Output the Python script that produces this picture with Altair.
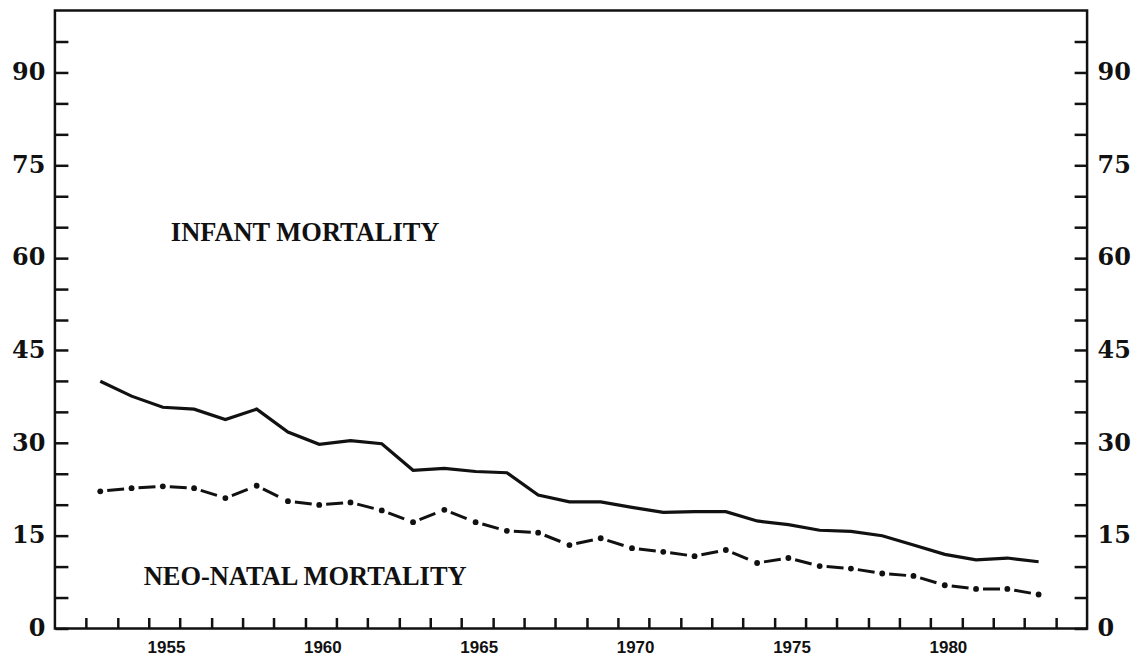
import altair as alt
import pandas as pd

# ---- data ----
years = list(range(1953, 1984))
infant = [40.0, 37.6, 35.8, 35.5, 33.8, 35.5, 31.8, 29.8, 30.4, 29.9,
          25.6, 25.9, 25.4, 25.2, 21.6, 20.5, 20.5, 19.6, 18.8, 18.9,
          18.9, 17.4, 16.8, 15.9, 15.7, 15.0, 13.5, 12.0, 11.1, 11.4, 10.8]
neonatal = [22.2, 22.7, 23.0, 22.7, 21.1, 23.1, 20.6, 20.0, 20.4, 19.1,
            17.2, 19.2, 17.2, 15.8, 15.5, 13.5, 14.6, 13.0, 12.4, 11.7,
            12.7, 10.6, 11.4, 10.1, 9.7, 8.9, 8.5, 7.0, 6.4, 6.4, 5.5]
x_tick_years = list(range(1953, 1985))
x_label_years = [1955, 1960, 1965, 1970, 1975, 1980]
y_tick_values = list(range(0, 100, 5))
y_label_values = [0, 15, 30, 45, 60, 75, 90]
series_labels = ["INFANT MORTALITY", "NEO-NATAL MORTALITY"]

# ---- layout constants ----
MID_YEAR = 0.45      # values plotted mid-year, between the year ticks
LABEL_SHIFT = 0.55
label_year = [1960.0, 1960.0]
label_value = [64.0, 8.4]
INK = "#111111"

df = pd.DataFrame({"year": years, "infant": infant, "neo": neonatal})
df["pos"] = df["year"] + MID_YEAR
seg = pd.DataFrame({
    "x": df["pos"].iloc[:-1].values,
    "x2": df["pos"].iloc[1:].values,
    "y": df["neo"].iloc[:-1].values,
    "y2": df["neo"].iloc[1:].values,
})
ann = pd.DataFrame({"text": series_labels, "x": label_year, "y": label_value})

xs = alt.Scale(domain=[1952, 1985], nice=False, zero=False)
ys = alt.Scale(domain=[0, 100], nice=False, zero=True)

common = dict(domain=False, grid=False, title=None, offset=0)
x_tick_axis = alt.Axis(orient="bottom", values=x_tick_years, labels=False,
                       tickSize=alt.ExprRef(expr="-11"), tickWidth=2.5,
                       tickColor=INK, **common)
x_label_axis = alt.Axis(orient="bottom",
                        values=[v + LABEL_SHIFT for v in x_label_years],
                        ticks=False, labelExpr="floor(datum.value)",
                        labelFont="Liberation Sans", labelFontWeight="bold",
                        labelFontSize=17, labelPadding=11, labelColor=INK,
                        labelFlush=False, **common)
y_left_ticks = alt.Axis(orient="left", values=y_tick_values, labels=False,
                        tickSize=alt.ExprRef(expr="-13"), tickWidth=2.5,
                        tickColor=INK, **common)
y_left_labels = alt.Axis(orient="left", values=y_label_values, ticks=False,
                         labelFont="DejaVu Serif", labelFontWeight="bold",
                         labelFontSize=24, labelPadding=10, labelColor=INK,
                         **common)
y_right_ticks = alt.Axis(orient="right", values=y_tick_values, labels=False,
                         tickSize=alt.ExprRef(expr="-13"), tickWidth=2.5,
                         tickColor=INK, **common)
y_right_labels = alt.Axis(orient="right", values=y_label_values, ticks=False,
                          labelFont="DejaVu Serif", labelFontWeight="bold",
                          labelFontSize=24, labelPadding=10, labelColor=INK,
                          **common)

infant_line = alt.Chart(df).mark_line(color=INK, strokeWidth=3.2).encode(
    x=alt.X("pos:Q", scale=xs, axis=x_tick_axis),
    y=alt.Y("infant:Q", scale=ys, axis=y_left_ticks),
)

neo_dashes = alt.Chart(seg).mark_rule(
    color=INK, strokeWidth=3, strokeDash=[0, 7, 17, 200], strokeCap="butt"
).encode(
    x=alt.X("x:Q", scale=xs, axis=x_label_axis),
    x2="x2:Q",
    y=alt.Y("y:Q", scale=ys, axis=y_left_labels),
    y2="y2:Q",
)

neo_dots = alt.Chart(df).mark_circle(color=INK, size=34, opacity=1).encode(
    x=alt.X("pos:Q", scale=xs, axis=None),
    y=alt.Y("neo:Q", scale=ys, axis=y_right_ticks),
)

texts = alt.Chart(ann).mark_text(
    font="Liberation Serif", fontWeight="bold", fontSize=26.5, color=INK,
    align="center", baseline="middle"
).encode(
    x=alt.X("x:Q", scale=xs, axis=None),
    y=alt.Y("y:Q", scale=ys, axis=y_right_labels),
    text="text:N",
)

chart = alt.layer(infant_line, neo_dashes, neo_dots, texts).resolve_axis(
    x="independent", y="independent"
).properties(
    width=1034, height=619,
    padding={"left": 47, "top": 2, "right": 47, "bottom": 28},
    autosize=alt.AutoSizeParams(type="none"),
    background="white",
).configure_view(stroke=INK, strokeWidth=2.5)

chart.save("out.html", embed_options={"renderer": "svg", "actions": False})
